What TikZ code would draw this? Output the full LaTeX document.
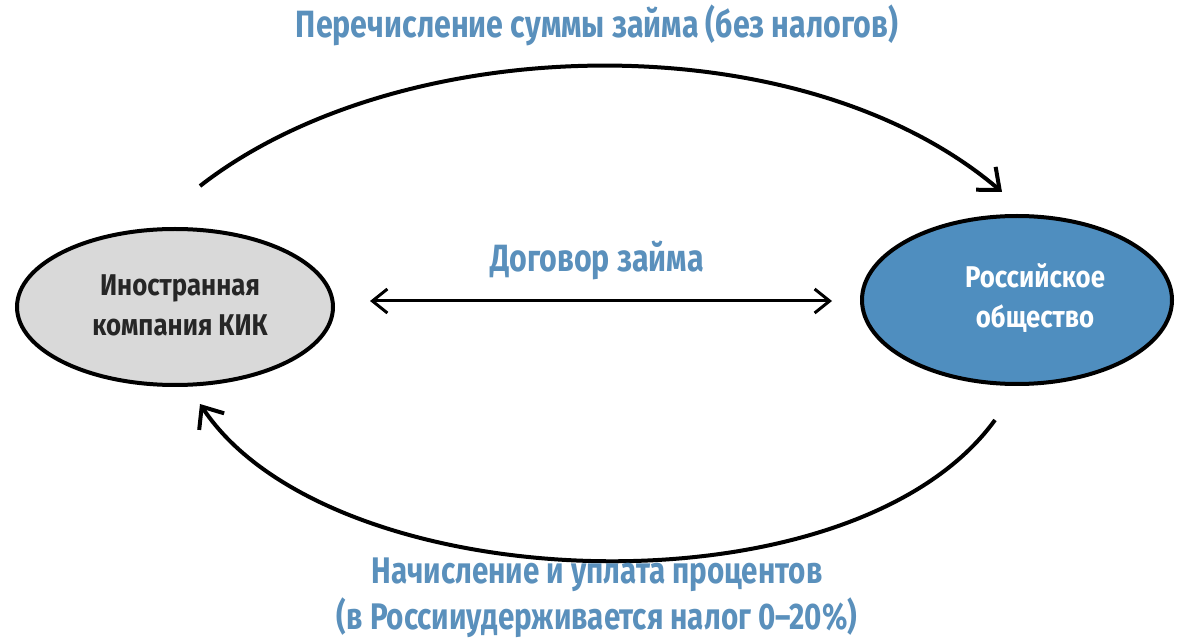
\documentclass[tikz,border=0pt]{standalone}
\usepackage{fontspec}
\setmainfont{Fira Sans}
\usetikzlibrary{arrows.meta}
\definecolor{ttl}{HTML}{5A90BC}
\definecolor{blu}{HTML}{4F8EBF}
\definecolor{gry}{HTML}{D9D9D9}
\tikzset{
  lbl/.style={text=ttl,font=\fontsize{38}{46}\selectfont\bfseries,xscale=0.8,align=center},
  arr/.style={line width=4pt,-{Straight Barb[length=18pt,width=30pt,line width=4pt]}},
  in txt/.style={font=\fontsize{30}{40}\selectfont\bfseries,xscale=0.86,align=center}
}
\begin{document}
\begin{tikzpicture}[x=1pt,y=-1pt]
\useasboundingbox (0,0) rectangle (1200,644);
\fill[white] (0,0) rectangle (1200,644);
\draw[fill=gry,line width=4pt] (175,307) ellipse [x radius=158,y radius=78];
\draw[fill=blu,line width=4pt] (1017,300) ellipse [x radius=155,y radius=84];
\node[in txt,text=black!85] (l) at (180,305) {Иностранная\\компания КИК};
\node[in txt,text=white] (r) at (1035,298) {Российское\\общество};
\coordinate (ta) at (200,186);
\coordinate (tb) at (1002,192);
\coordinate (ba) at (995,420);
\coordinate (bb) at (200,404);
\coordinate (ma) at (370,301);
\coordinate (mb) at (832,301);
\draw[arr] (ta) .. controls (400,30) and (800,20) .. (tb);
\draw[arr] (ba) .. controls (850,620) and (330,600) .. (bb);
\draw[line width=3pt,{Straight Barb[length=15pt,width=24pt,line width=3pt]}-{Straight Barb[length=15pt,width=24pt,line width=3pt]}] (ma) -- (mb);
\node[lbl] (t1) at (597,25) {Перечисление суммы займа (без налогов)};
\node[lbl] (t2) at (597,260) {Договор займа};
\node[lbl,font=\fontsize{37}{46}\selectfont\bfseries] (t3) at (597,598) {Начисление и уплата процентов\\(в Россииудерживается налог 0–20\%)};
\end{tikzpicture}
\end{document}
